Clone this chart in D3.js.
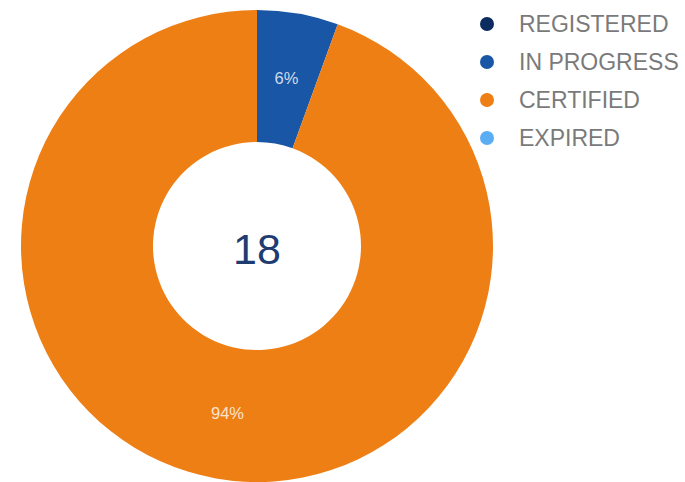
<!DOCTYPE html>
<html lang="en">
<head>
  <meta charset="utf-8" />
  <title>Certification status</title>
  <script src="https://cdn.jsdelivr.net/npm/d3@7"></script>
  <style>
    body { margin: 0; background: #fff; }
    svg { display: block; font-family: "Liberation Sans", Arial, sans-serif; }
    .legend text { fill: #7a7a7a; font-size: 23px; }
    .slice-label { fill: #fff; fill-opacity: 0.8; font-size: 16.5px; }
  </style>
</head>
<body>
<div id="chart"></div>
<script>
  var width = 685;
  var height = 482;

  // data
  var categories = ["REGISTERED", "IN PROGRESS", "CERTIFIED", "EXPIRED"];
  var counts = [0, 1, 17, 0];
  var colors = ["#0c2b60", "#1a56a6", "#ee7f14", "#5badf3"];

  var cx = 257, cy = 246;
  var outerR = 236, innerR = 104;

  var color = d3.scaleOrdinal().domain(categories).range(colors);
  var total = d3.sum(counts);

  var svg = d3.select("#chart").append("svg")
      .attr("width", width)
      .attr("height", height);

  var pie = d3.pie().sort(null).value(function(d) { return d.value; });
  var data = categories.map(function(c, i) { return { name: c, value: counts[i] }; });

  var arc = d3.arc().innerRadius(innerR).outerRadius(outerR);
  var labelArc = d3.arc().innerRadius(170).outerRadius(170);

  var g = svg.append("g").attr("transform", "translate(" + cx + "," + cy + ")");

  var arcs = pie(data).filter(function(d) { return d.data.value > 0; });

  g.selectAll("path.slice")
    .data(arcs)
    .enter().append("path")
      .attr("class", "slice")
      .attr("d", arc)
      .attr("fill", function(d) { return color(d.data.name); });

  g.selectAll("text.slice-label")
    .data(arcs)
    .enter().append("text")
      .attr("class", "slice-label")
      .attr("transform", function(d) { return "translate(" + labelArc.centroid(d) + ")"; })
      .attr("text-anchor", "middle")
      .attr("dy", "0.35em")
      .text(function(d) { return Math.round(d.data.value / total * 100) + "%"; });

  g.append("text")
    .attr("text-anchor", "middle")
    .attr("dy", "0.36em")
    .attr("y", 3)
    .style("font-size", "43px")
    .style("fill", "#1e3b72")
    .text(total);

  // legend
  var legendY = d3.scalePoint().domain(categories).range([24, 138]);

  var legend = svg.append("g").attr("class", "legend");
  var item = legend.selectAll("g")
    .data(categories)
    .enter().append("g")
      .attr("transform", function(d) { return "translate(487," + legendY(d) + ")"; });

  item.append("circle")
    .attr("r", 7)
    .attr("fill", function(d) { return color(d); });

  item.append("text")
    .attr("x", 32)
    .attr("dy", "0.36em")
    .text(function(d) { return d; });
</script>
</body>
</html>
